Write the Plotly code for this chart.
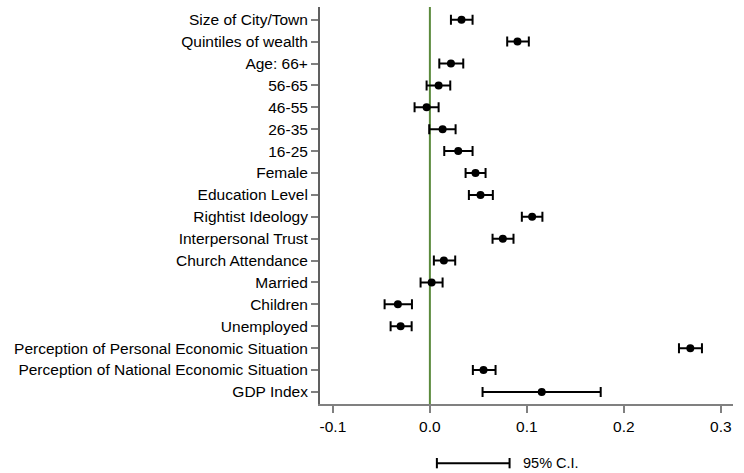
import plotly.graph_objects as go

categories = [
    "Size of City/Town", "Quintiles of wealth", "Age: 66+", "56-65", "46-55",
    "26-35", "16-25", "Female", "Education Level", "Rightist Ideology",
    "Interpersonal Trust", "Church Attendance", "Married", "Children",
    "Unemployed", "Perception of Personal Economic Situation",
    "Perception of National Economic Situation", "GDP Index",
]
estimate = [0.0326, 0.0903, 0.0217, 0.0090, -0.0034, 0.0131, 0.0292, 0.0470,
            0.0522, 0.1054, 0.0752, 0.0144, 0.0018, -0.0330, -0.0302, 0.2685,
            0.0553, 0.1153]
ci_low = [0.0217, 0.0797, 0.0097, -0.0034, -0.0158, -0.0007, 0.0148, 0.0368,
          0.0402, 0.0948, 0.0646, 0.0041, -0.0096, -0.0467, -0.0405, 0.2568,
          0.0443, 0.0543]
ci_high = [0.0440, 0.1020, 0.0344, 0.0210, 0.0090, 0.0265, 0.0440, 0.0574,
           0.0649, 0.1160, 0.0862, 0.0261, 0.0131, -0.0185, -0.0188, 0.2805,
           0.0677, 0.1761]
x_ticks = [-0.1, 0.0, 0.1, 0.2, 0.3]
x_ticklabels = ["-0.1", "0.0", "0.1", "0.2", "0.3"]

n = len(categories)
ypos = [n - 1 - i for i in range(n)]

fig = go.Figure()
fig.add_trace(go.Scatter(
    x=estimate, y=ypos, mode="markers",
    marker=dict(color="black", size=8),
    error_x=dict(type="data",
                 array=[h - e for h, e in zip(ci_high, estimate)],
                 arrayminus=[e - l for e, l in zip(estimate, ci_low)],
                 color="black", thickness=2, width=5),
    showlegend=False,
))

fig.add_shape(type="line", xref="x", yref="paper", x0=0, x1=0, y0=0, y1=1,
              line=dict(color="#5b8a3c", width=2), layer="below")

# 95% C.I. legend key
fig.add_shape(type="line", xref="paper", yref="paper", x0=0.283, x1=0.459,
              y0=-0.149, y1=-0.149, line=dict(color="black", width=2))
fig.add_shape(type="line", xref="paper", yref="paper", x0=0.283, x1=0.283,
              y0=-0.136, y1=-0.162, line=dict(color="black", width=2))
fig.add_shape(type="line", xref="paper", yref="paper", x0=0.459, x1=0.459,
              y0=-0.136, y1=-0.162, line=dict(color="black", width=2))
fig.add_annotation(xref="paper", yref="paper", x=0.486, y=-0.149,
                   text="95% C.I.", showarrow=False, xanchor="left",
                   yanchor="middle", font=dict(size=14.5, color="black"))

fig.update_layout(
    width=744, height=473,
    margin=dict(l=320, r=11, t=7, b=69),
    plot_bgcolor="white", paper_bgcolor="white",
    font=dict(family="Liberation Sans, Arial, sans-serif", size=15.5, color="black"),
    xaxis=dict(range=[-0.1133, 0.3125], tickvals=x_ticks, ticktext=x_ticklabels,
               showgrid=False, zeroline=False, showline=True, linecolor="#808080",
               linewidth=2, ticks="outside", ticklen=7, tickcolor="#808080",
               tickwidth=2, tickfont=dict(size=15.5)),
    yaxis=dict(range=[-0.55, n - 1 + 0.58], tickvals=ypos, ticktext=categories,
               showgrid=False, zeroline=False, showline=True, linecolor="#606060",
               linewidth=2, ticks="outside", ticklen=7, tickcolor="#808080",
               tickwidth=2),
)

fig.write_html("out.html", config={"displayModeBar": False},
               post_script="document.body.style.margin='0';")
